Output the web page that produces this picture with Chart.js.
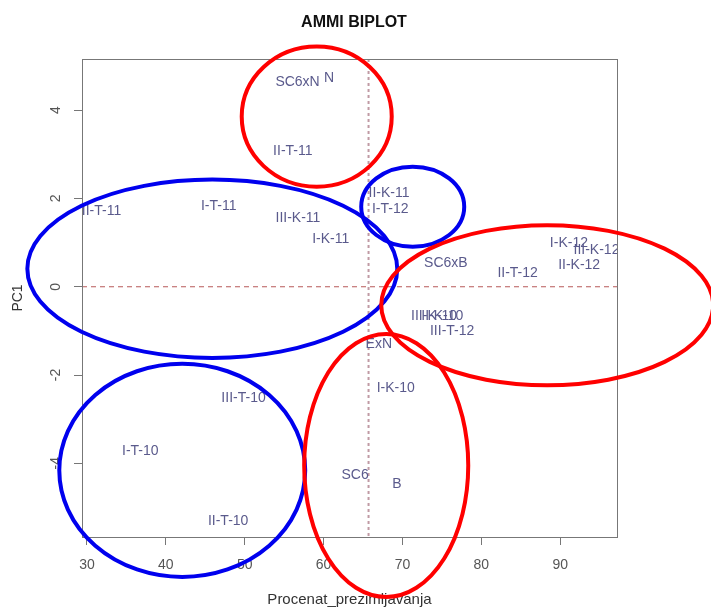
<!DOCTYPE html>
<html>
<head>
<meta charset="utf-8">
<script src="https://cdn.jsdelivr.net/npm/chart.js@4.4.1/dist/chart.umd.min.js"></script>
<style>
  body { margin: 0; background: #fff; }
  #wrap { width: 711px; height: 610px; }
</style>
</head>
<body>
<div id="wrap"><canvas id="myChart" width="711" height="610"></canvas></div>
<script>
// AMMI biplot: environments + genotypes
const names = [
  "SC6xN", "N", "II-T-11", "III-T-11", "I-T-11", "III-K-11", "I-K-11", "II-K-11", "I-T-12",
  "SC6xB", "II-T-12", "I-K-12", "III-K-12", "II-K-12", "III-K-10", "II-K-10", "III-T-12",
  "ExN", "I-K-10", "SC6", "B", "III-T-10", "I-T-10", "II-T-10"
];
const prezim = [
  56.7, 60.7, 56.1, 31.6, 46.7, 56.75, 60.9, 68.3, 68.45,
  75.5, 84.6, 91.1, 94.6, 92.4, 74.0, 75.05, 76.3,
  67.0, 69.15, 64.0, 69.3, 49.85, 36.76, 47.9
];
const pc1 = [
  4.64, 4.73, 3.07, 1.71, 1.82, 1.56, 1.08, 2.13, 1.76,
  0.54, 0.31, 0.98, 0.82, 0.48, -0.67, -0.67, -1.01,
  -1.29, -2.30, -4.26, -4.47, -2.52, -3.73, -5.30
];

const xTicks = [30, 40, 50, 60, 70, 80, 90];
const yTicks = [-4, -2, 0, 2, 4];
const meanX = 65.7;
const meanY = 0;

// groups circled by hand (data units)
const ringX = [59.13, 45.89, 71.3, 88.35, 42.08, 67.94];
const ringY = [3.855, 0.408, 1.814, -0.42, -4.16, -4.05];
const ringRx = [9.51, 23.45, 6.53, 21.04, 15.59, 10.4];
const ringRy = [1.587, 2.02, 0.907, 1.814, 2.415, 2.98];
const ringCol = ["#ff0000", "#0000ee", "#0000ee", "#ff0000", "#0000ee", "#ff0000"];

const points = prezim.map((x, i) => ({x: x, y: pc1[i]}));

const biplotPlugin = {
  id: "biplot",
  beforeDatasetsDraw(chart) {
    const ctx = chart.ctx;
    const a = chart.chartArea;
    const xs = chart.scales.x, ys = chart.scales.y;
    ctx.save();
    ctx.beginPath();
    ctx.rect(a.left, a.top, a.right - a.left, a.bottom - a.top);
    ctx.clip();
    // reference lines
    ctx.setLineDash([5, 4]);
    ctx.strokeStyle = "#b85a5a";
    ctx.lineWidth = 1.2;
    ctx.beginPath();
    ctx.moveTo(a.left, ys.getPixelForValue(meanY));
    ctx.lineTo(a.right, ys.getPixelForValue(meanY));
    ctx.stroke();
    ctx.strokeStyle = "#c09aa4";
    ctx.lineWidth = 2;
    ctx.setLineDash([3, 3]);
    ctx.beginPath();
    ctx.moveTo(xs.getPixelForValue(meanX), a.top);
    ctx.lineTo(xs.getPixelForValue(meanX), a.bottom);
    ctx.stroke();
    ctx.restore();
  },
  afterDatasetsDraw(chart) {
    const ctx = chart.ctx;
    const a = chart.chartArea;
    const meta = chart.getDatasetMeta(0);
    ctx.save();
    ctx.beginPath();
    ctx.rect(a.left, a.top, a.right - a.left, a.bottom - a.top);
    ctx.clip();
    ctx.font = "14px 'Liberation Sans', Arial, sans-serif";
    ctx.fillStyle = "#5a5a8c";
    ctx.textAlign = "center";
    ctx.textBaseline = "middle";
    meta.data.forEach((el, i) => {
      ctx.fillText(names[i], el.x, el.y);
    });
    ctx.restore();

    // box
    ctx.save();
    ctx.strokeStyle = "#777";
    ctx.lineWidth = 1;
    ctx.strokeRect(a.left + 0.5, a.top + 0.5, a.right - a.left, a.bottom - a.top);

    // rotated y tick labels, R style
    const ys = chart.scales.y;
    ctx.font = "14px 'Liberation Sans', Arial, sans-serif";
    ctx.fillStyle = "#555";
    ctx.textAlign = "center";
    ctx.textBaseline = "middle";
    yTicks.forEach(v => {
      ctx.save();
      ctx.translate(a.left - 26, ys.getPixelForValue(v));
      ctx.rotate(-Math.PI / 2);
      ctx.fillText(String(v), 0, 0);
      ctx.restore();
    });

    // main title
    ctx.font = "bold 16px 'Liberation Sans', Arial, sans-serif";
    ctx.fillStyle = "#111";
    ctx.fillText("AMMI BIPLOT", 354, 23);
    ctx.restore();
  },
  afterDraw(chart) {
    const ctx = chart.ctx;
    const xs = chart.scales.x, ys = chart.scales.y;
    ctx.save();
    ctx.lineWidth = 4;
    ringX.forEach((cx, i) => {
      const px = xs.getPixelForValue(cx);
      const py = ys.getPixelForValue(ringY[i]);
      const rx = Math.abs(xs.getPixelForValue(cx + ringRx[i]) - px);
      const ry = Math.abs(ys.getPixelForValue(ringY[i] + ringRy[i]) - py);
      ctx.strokeStyle = ringCol[i];
      ctx.beginPath();
      ctx.ellipse(px, py, rx, ry, 0, 0, Math.PI * 2);
      ctx.stroke();
    });
    ctx.restore();
  }
};

const ctx = document.getElementById("myChart").getContext("2d");
const myChart = new Chart(ctx, {
  type: "scatter",
  data: {
    datasets: [{
      label: "AMMI",
      data: points,
      pointRadius: 0,
      pointHoverRadius: 0,
      showLine: false
    }]
  },
  options: {
    responsive: false,
    animation: false,
    layout: { padding: { left: 0, right: 94, top: 59, bottom: 0 } },
    plugins: {
      legend: { display: false },
      tooltip: { enabled: false },
      title: { display: false }
    },
    scales: {
      x: {
        type: "linear",
        min: 29.37,
        max: 97.2,
        afterBuildTicks: s => { s.ticks = xTicks.map(v => ({value: v})); },
        afterFit: s => { s.height = 73; },
        grid: { drawOnChartArea: false, drawTicks: true, tickLength: 8, color: "#777" },
        border: { display: true, color: "#777" },
        ticks: {
          color: "#555",
          padding: 12,
          maxRotation: 0,
          font: { family: "'Liberation Sans', Arial, sans-serif", size: 14 }
        },
        title: {
          display: true,
          text: "Procenat_prezimljavanja",
          color: "#333",
          font: { family: "'Liberation Sans', Arial, sans-serif", size: 15 },
          padding: { top: 0, bottom: 1 }
        }
      },
      y: {
        type: "linear",
        min: -5.67,
        max: 5.16,
        afterBuildTicks: s => { s.ticks = yTicks.map(v => ({value: v})); },
        afterFit: s => { s.width = 82; },
        grid: { drawOnChartArea: false, drawTicks: true, tickLength: 8, color: "#777" },
        border: { display: true, color: "#777" },
        ticks: { display: false },
        title: {
          display: true,
          text: "PC1",
          color: "#333",
          font: { family: "'Liberation Sans', Arial, sans-serif", size: 14 },
          padding: { top: 10, bottom: 0 }
        }
      }
    }
  },
  plugins: [biplotPlugin]
});
</script>
</body>
</html>
